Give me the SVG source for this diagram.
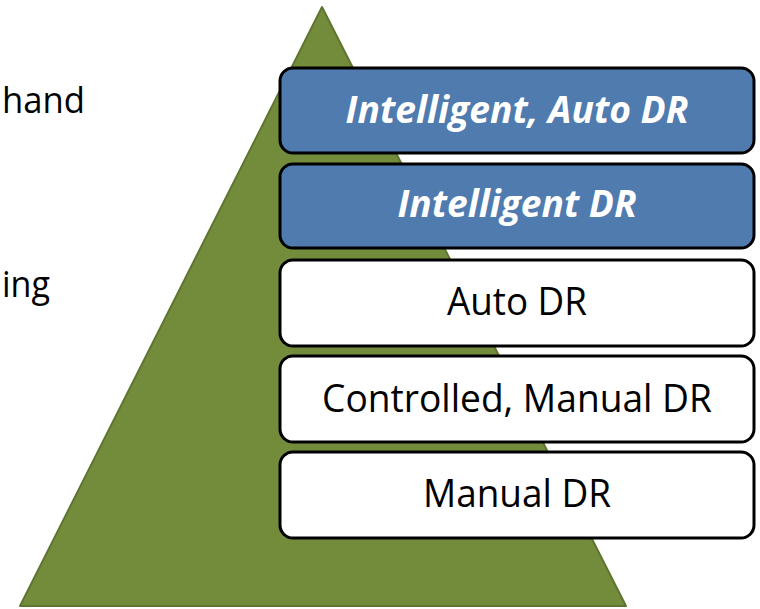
<svg xmlns="http://www.w3.org/2000/svg" width="760" height="609" viewBox="0 0 760 609">
<style>
.box{stroke:#000;stroke-width:3}
.blue{fill:#4F7BAF}
.white{fill:#FFFFFF}
.t{font-family:"Open Sans","Liberation Sans",sans-serif;font-size:38px;text-anchor:middle}
.tb{font-family:"Open Sans","Liberation Sans",sans-serif;font-size:38px;font-weight:bold;font-style:italic;fill:#FFFFFF;text-anchor:middle}
.side{font-family:"Open Sans","Liberation Sans",sans-serif;font-size:37px;fill:#000}
</style>
<rect width="760" height="609" fill="#FFFFFF"/>
<g id="pyramid">
<polygon points="322,7 626,606 20,606" fill="#738C3C" stroke="#5E7530" stroke-width="2" stroke-linejoin="round"/>
</g>
<text class="side" x="2" y="113" textLength="83" lengthAdjust="spacingAndGlyphs">hand</text>
<text class="side" x="2" y="297" textLength="48" lengthAdjust="spacingAndGlyphs">ing</text>
<g id="n1">
<rect class="box blue" x="280" y="68" width="474" height="85" rx="13"/>
<text class="tb" x="517" y="123" textLength="343" lengthAdjust="spacingAndGlyphs">Intelligent, Auto DR</text>
</g>
<g id="n2">
<rect class="box blue" x="280" y="164" width="474" height="84" rx="13"/>
<text class="tb" x="517" y="217" textLength="239" lengthAdjust="spacingAndGlyphs">Intelligent DR</text>
</g>
<g id="n3">
<rect class="box white" x="280" y="260" width="474" height="86" rx="13"/>
<text class="t" x="517" y="315" textLength="140" lengthAdjust="spacingAndGlyphs">Auto DR</text>
</g>
<g id="n4">
<rect class="box white" x="280" y="356" width="474" height="86" rx="13"/>
<text class="t" x="517" y="412" textLength="390" lengthAdjust="spacingAndGlyphs">Controlled, Manual DR</text>
</g>
<g id="n5">
<rect class="box white" x="280" y="452" width="474" height="86" rx="13"/>
<text class="t" x="517" y="507" textLength="188" lengthAdjust="spacingAndGlyphs">Manual DR</text>
</g>
<g id="connectors"/>
</svg>
